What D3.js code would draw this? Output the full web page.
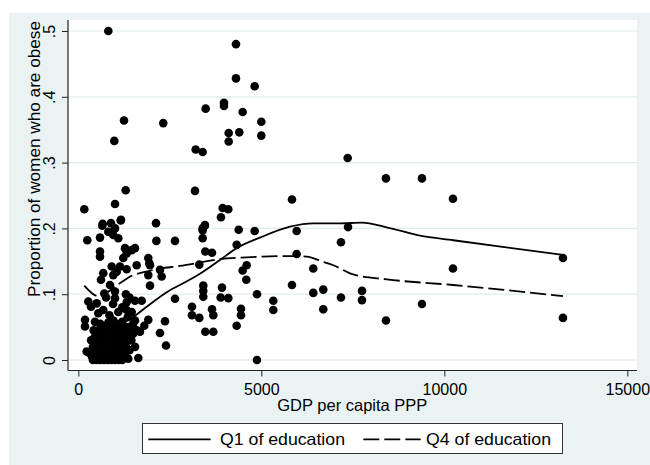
<!DOCTYPE html>
<html><head><meta charset="utf-8">
<script src="https://cdn.jsdelivr.net/npm/d3@7"></script>
<style>
body{margin:0;background:#fff}
svg{display:block}
text{font-family:"Liberation Sans",Arial,sans-serif;fill:#000}
</style>
</head><body>
<svg id="chart" width="650" height="465"></svg>
<script>
// ---- data ----
const scatterPoints = [
  [820,.500],[1249,.364],[984,.333],[1295,.258],[1003,.237],[164,.229],
  [2322,.360],[3207,.320],[3398,.316],[3188,.257],[3480,.382],[3980,.391],[3980,.386],
  [4308,.480],[4308,.428],[4491,.377],[4819,.416],[4109,.345],[4398,.346],[4109,.332],
  [5000,.362],[5000,.341],[5838,.244],[5966,.196],[3898,.217],[3945,.231],[4098,.229],
  [4382,.198],[4819,.196],[2123,.208],[666,.207],[893,.208],[1158,.212],[3398,.200],[3453,.204],
  [7360,.307],[8406,.276],[9390,.276],[10237,.245],[7370,.202],[7177,.179],[13242,.155],
  [10237,.139],[6693,.107],[6693,.077],[7177,.095],[7751,.105],[7751,.091],[8406,.060],
  [9390,.085],[13242,.064],
  [3461,.205],[3398,.197],[3398,.185],[4327,.175],[3470,.165],[3653,.163],[3306,.145],
  [5966,.161],[4600,.144],[4491,.136],[4590,.122],[6420,.139],[3415,.113],[3415,.105],
  [3415,.096],[3926,.110],[3890,.095],[4098,.094],[4882,.100],[5838,.114],[6420,.102],
  [5328,.090],[5328,.076],[3106,.081],[3106,.068],[3306,.064],[3653,.077],[3689,.068],
  [4445,.078],[4445,.068],[4327,.052],[3470,.043],[3689,.043],[4882,0],
  [1167,.213],[656,.204],[1003,.200],[246,.182],[593,.186],[820,.195],[956,.190],[1093,.185],
  [2133,.181],[2642,.181],[593,.165],[593,.157],[1276,.170],[1322,.162],[1459,.167],[1549,.170],
  [1229,.155],[1912,.155],[1940,.147],[912,.142],[1049,.134],[956,.129],[1139,.142],[1322,.138],
  [1595,.144],[1959,.144],[1912,.129],[2232,.137],[2278,.127],[1959,.113],[683,.132],[620,.122],
  [866,.114],[710,.101],[1003,.104],[1003,.094],[273,.089],[347,.081],[503,.086],[683,.076],
  [546,.071],[2642,.093],[1322,.088],[1549,.090],[1732,.090],[1322,.076],[1459,.073],[183,.061],
  [456,.058],[183,.051],[229,.013],[2369,.059],[1912,.061],[1803,.052],[2232,.041],[2396,.022],
  [1686,.043],[1640,.003],[1366,.002],
  [400,0],[500,0],[600,0],[700,0],[800,0],[900,0],[1000,0],[1100,0],[1200,0],
  [450,.01],[650,.01],[850,.01],[1050,.01],[1250,.01],
  [550,.02],[750,.02],[950,.02],[1150,.02],[1300,.02],
  [500,.03],[700,.03],[900,.03],[1100,.03],[1400,.03],
  [600,.04],[800,.04],[1000,.04],[1200,.04],[1500,.04],
  [700,.05],[900,.05],[1100,.05],[1300,.05],
  [650,.015],[780,.035],[1020,.025],[880,.045],[1150,.055],[960,.06],[820,.057],[1250,.045],
  [1450,.03],[1550,.02],[1093,.073],[850,.068],[1200,.08],[950,.085],[760,.095],[1300,.1],
  [1400,.095],[290,.011],[350,.03],[420,.045],
  [375,.005],[525,.005],[675,.005],[825,.005],[975,.005],[1125,.005],[1275,.008],
  [400,.02],[600,.025],[800,.025],[1000,.015],[1200,.015],[1400,.015],
  [450,.035],[650,.035],[850,.03],[1050,.035],[1250,.03],
  [550,.045],[750,.045],[950,.05],[1150,.045],[1350,.04],
  [600,.055],[800,.05],[1000,.055],[1200,.058],[1400,.05],
  [1500,.055],[1600,.045],[1350,.065],[1550,.06]
];
const q1Gdp = [500,1000,1459,1869,2505,2779,3324,3871,4327,4964,5784,6420,7150,7751,8425,9335,10245,13242];
const q1Value = [.040,.052,.064,.081,.106,.114,.131,.152,.170,.186,.2026,.2077,.2077,.2087,.2017,.189,.182,.1596];
const q4Gdp = [164,546,1093,1459,1822,2232,2779,3324,3871,4600,5784,6240,6693,6967,7514,8425,10245,13242];
const q4Value = [.113,.097,.115,.128,.134,.139,.1429,.148,.1535,.156,.158,.157,.149,.144,.130,.1226,.114,.097];
const xTicks = [0,5000,10000,15000];
const yTicks = [0,.1,.2,.3,.4,.5];
const yTickLabels = ["0",".1",".2",".3",".4",".5"];
const seriesNames = ["Q1 of education","Q4 of education"];

// ---- drawing ----
const svg = d3.select("#chart");
const bg = "#eaf2f3";
const plot = {left:68, right:637, top:20, bottom:370.5};

svg.append("rect").attr("x",9).attr("y",13).attr("width",641).attr("height",452).attr("fill",bg);
svg.append("rect").attr("x",plot.left).attr("y",plot.top).attr("width",plot.right-plot.left)
   .attr("height",plot.bottom-plot.top).attr("fill","#fff");

const x = d3.scaleLinear().domain([0,15000]).range([78.3,627.3]);
const y = d3.scaleLinear().domain([0,.5]).range([360,31]);

// gridlines
svg.append("g").selectAll("line").data(yTicks).join("line")
  .attr("x1",plot.left+1).attr("x2",plot.right)
  .attr("y1",d=>y(d)).attr("y2",d=>y(d))
  .attr("stroke","#e0ebee").attr("stroke-width",1.2);

// points
svg.append("g").selectAll("circle").data(scatterPoints).join("circle")
  .attr("cx",d=>x(d[0])).attr("cy",d=>y(d[1])).attr("r",4.3).attr("fill","#000");

// lowess lines
const line = d3.line().x(d=>x(d[0])).y(d=>y(d[1])).curve(d3.curveMonotoneX);
svg.append("path").datum(q1Gdp.map((g,i)=>[g,q1Value[i]])).attr("d",line)
  .attr("fill","none").attr("stroke","#000").attr("stroke-width",1.8);
svg.append("path").datum(q4Gdp.map((g,i)=>[g,q4Value[i]])).attr("d",line)
  .attr("fill","none").attr("stroke","#000").attr("stroke-width",1.8).attr("stroke-dasharray","16,5");

// axes
const xAxis = svg.append("g").attr("transform",`translate(0,${plot.bottom})`)
  .call(d3.axisBottom(x).tickValues(xTicks).tickSize(6).tickSizeOuter(0).tickFormat(d=>String(d)));
xAxis.select(".domain").remove();
xAxis.selectAll("line").attr("stroke","#222");
xAxis.selectAll("text").attr("font-size",16).attr("y",null).attr("dy",null)
  .attr("transform","translate(0,24.5)").style("font-family",'"Liberation Sans",Arial,sans-serif');

const yAxis = svg.append("g").attr("transform",`translate(${plot.left},0)`)
  .call(d3.axisLeft(y).tickValues(yTicks).tickSize(6).tickSizeOuter(0).tickFormat((d,i)=>yTickLabels[i]));
yAxis.select(".domain").remove();
yAxis.selectAll("line").attr("stroke","#222");
yAxis.selectAll("text").attr("font-size",16).attr("x",0).attr("y",-13).attr("dy",null)
  .attr("text-anchor","middle").attr("transform","rotate(-90)")
  .style("font-family",'"Liberation Sans",Arial,sans-serif');

svg.append("line").attr("x1",plot.left).attr("x2",plot.right).attr("y1",plot.bottom).attr("y2",plot.bottom)
  .attr("stroke","#222").attr("stroke-width",1.2);
svg.append("line").attr("x1",plot.left).attr("x2",plot.left).attr("y1",plot.top).attr("y2",plot.bottom)
  .attr("stroke","#222").attr("stroke-width",1.2);

// axis titles
svg.append("text").attr("x",352.3).attr("y",410.7).attr("text-anchor","middle")
  .attr("font-size",16.5).attr("textLength",150).attr("lengthAdjust","spacingAndGlyphs")
  .text("GDP per capita PPP");
svg.append("text").attr("transform","translate(40,159) rotate(-90)").attr("text-anchor","middle")
  .attr("font-size",17).attr("textLength",276).attr("lengthAdjust","spacingAndGlyphs")
  .text("Proportion of women who are obese");

// legend
const lg = svg.append("g");
lg.append("rect").attr("x",142.5).attr("y",423.5).attr("width",420).attr("height",30)
  .attr("fill","#fff").attr("stroke","#333").attr("stroke-width",1);
const legendItems = [
  {x0:148.3,x1:210.7,tx:220,dash:null},
  {x0:363.3,x1:420.7,tx:426,dash:"16,5"}
];
legendItems.forEach((it,i)=>{
  lg.append("line").attr("x1",it.x0).attr("x2",it.x1).attr("y1",439.3).attr("y2",439.3)
    .attr("stroke","#000").attr("stroke-width",1.8).attr("stroke-dasharray",it.dash);
  lg.append("text").attr("x",it.tx).attr("y",445).attr("font-size",16.5)
    .attr("textLength",125).attr("lengthAdjust","spacingAndGlyphs").text(seriesNames[i]);
});
</script>
</body></html>
